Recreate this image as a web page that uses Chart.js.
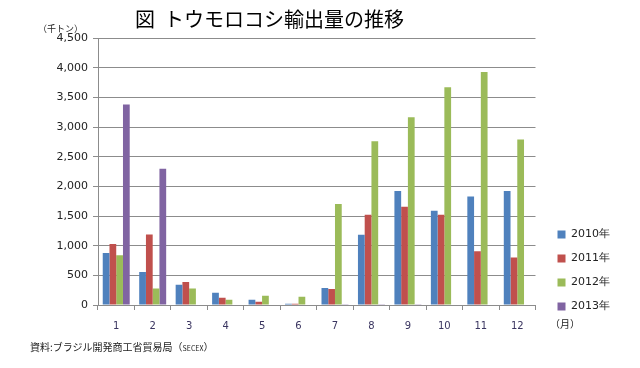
<!DOCTYPE html>
<html lang="ja">
<head>
<meta charset="utf-8">
<script src="https://cdn.jsdelivr.net/npm/chart.js@4.4.1/dist/chart.umd.min.js"></script>
<style>
  body { margin: 0; background: #fff; }
  #wrap { position: relative; width: 640px; height: 368px; font-family: "Noto Sans CJK JP", "DejaVu Sans", sans-serif; }
  .note { position: absolute; color: #222; white-space: nowrap; }
  #title { left: 135px; top: 4px; font-size: 20px; color: #000; }
  #unit { left: 38px; top: 22px; font-size: 9px; }
  #month { left: 550px; top: 316px; font-size: 10px; }
  #source { left: 30px; top: 339px; font-size: 10px; }
  #source small { font-size: 7px; }
</style>
</head>
<body>
<div id="wrap">
  <canvas id="cornChart"></canvas>
  <div class="note" id="title">図&nbsp; トウモロコシ輸出量の推移</div>
  <div class="note" id="unit">（千トン）</div>
  <div class="note" id="month">（月）</div>
  <div class="note" id="source">資料:ブラジル開発商工省貿易局（<small>SECEX</small>）</div>
</div>
<script>
(() => {
  'use strict'

  const months = ['1', '2', '3', '4', '5', '6', '7', '8', '9', '10', '11', '12']
  const y2010 = [875, 558, 343, 208, 90, 22, 288, 1184, 1923, 1590, 1827, 1923]
  const y2011 = [1027, 1189, 389, 124, 56, 22, 270, 1523, 1658, 1523, 908, 801]
  const y2012 = [840, 276, 276, 90, 157, 141, 1704, 2758, 3164, 3671, 3925, 2791]
  const y2013 = [3378, 2295, 0, 0, 0, 0, 12, 12, 12, 0, 0, 0]

  const chartElement = document.getElementById('cornChart')
  const gridColor = '#8c8c8c'

  // push the legend a little away from the plot and up, like the Excel original
  const legendNudge = {
    id: 'legendNudge',
    afterLayout: chart => {
      const legend = chart.legend
      legend.left += 9
      legend.right += 9
      legend.top -= 17
      legend.bottom -= 17
    }
  }

  // eslint-disable-next-line no-unused-vars
  const cornChart = new Chart(chartElement, {
    type: 'bar',
    data: {
      labels: months,
      datasets: [
        { label: '2010年', data: y2010, backgroundColor: '#4f81bd' },
        { label: '2011年', data: y2011, backgroundColor: '#c0504d' },
        { label: '2012年', data: y2012, backgroundColor: '#9bbb59' },
        { label: '2013年', data: y2013, backgroundColor: '#8064a2' }
      ]
    },
    plugins: [legendNudge],
    options: {
      responsive: true,
      maintainAspectRatio: false,
      animation: false,
      categoryPercentage: 0.74,
      barPercentage: 1,
      layout: {
        padding: { left: 38, right: 29, top: 38, bottom: 26 }
      },
      plugins: {
        title: { display: false },
        tooltip: { enabled: false },
        legend: {
          position: 'right',
          align: 'end',
          labels: {
            boxWidth: 8,
            boxHeight: 8,
            padding: 13,
            color: '#222',
            font: { family: 'DejaVu Sans', size: 11 }
          }
        }
      },
      scales: {
        x: {
          offset: true,
          border: { color: gridColor },
          grid: {
            offset: true,
            drawOnChartArea: false,
            tickLength: 5,
            color: gridColor
          },
          ticks: {
            padding: 10,
            color: '#3a3560',
            font: { family: 'DejaVu Sans', size: 10 }
          }
        },
        y: {
          min: 0,
          max: 4500,
          afterFit: scale => { scale.width = 60 },
          border: { color: gridColor },
          grid: { color: gridColor, tickLength: 5 },
          ticks: {
            stepSize: 500,
            padding: 5,
            color: '#222',
            font: { family: 'DejaVu Sans', size: 11 },
            callback: value => value.toLocaleString('en-US')
          }
        }
      }
    }
  })
})()
</script>
</body>
</html>
